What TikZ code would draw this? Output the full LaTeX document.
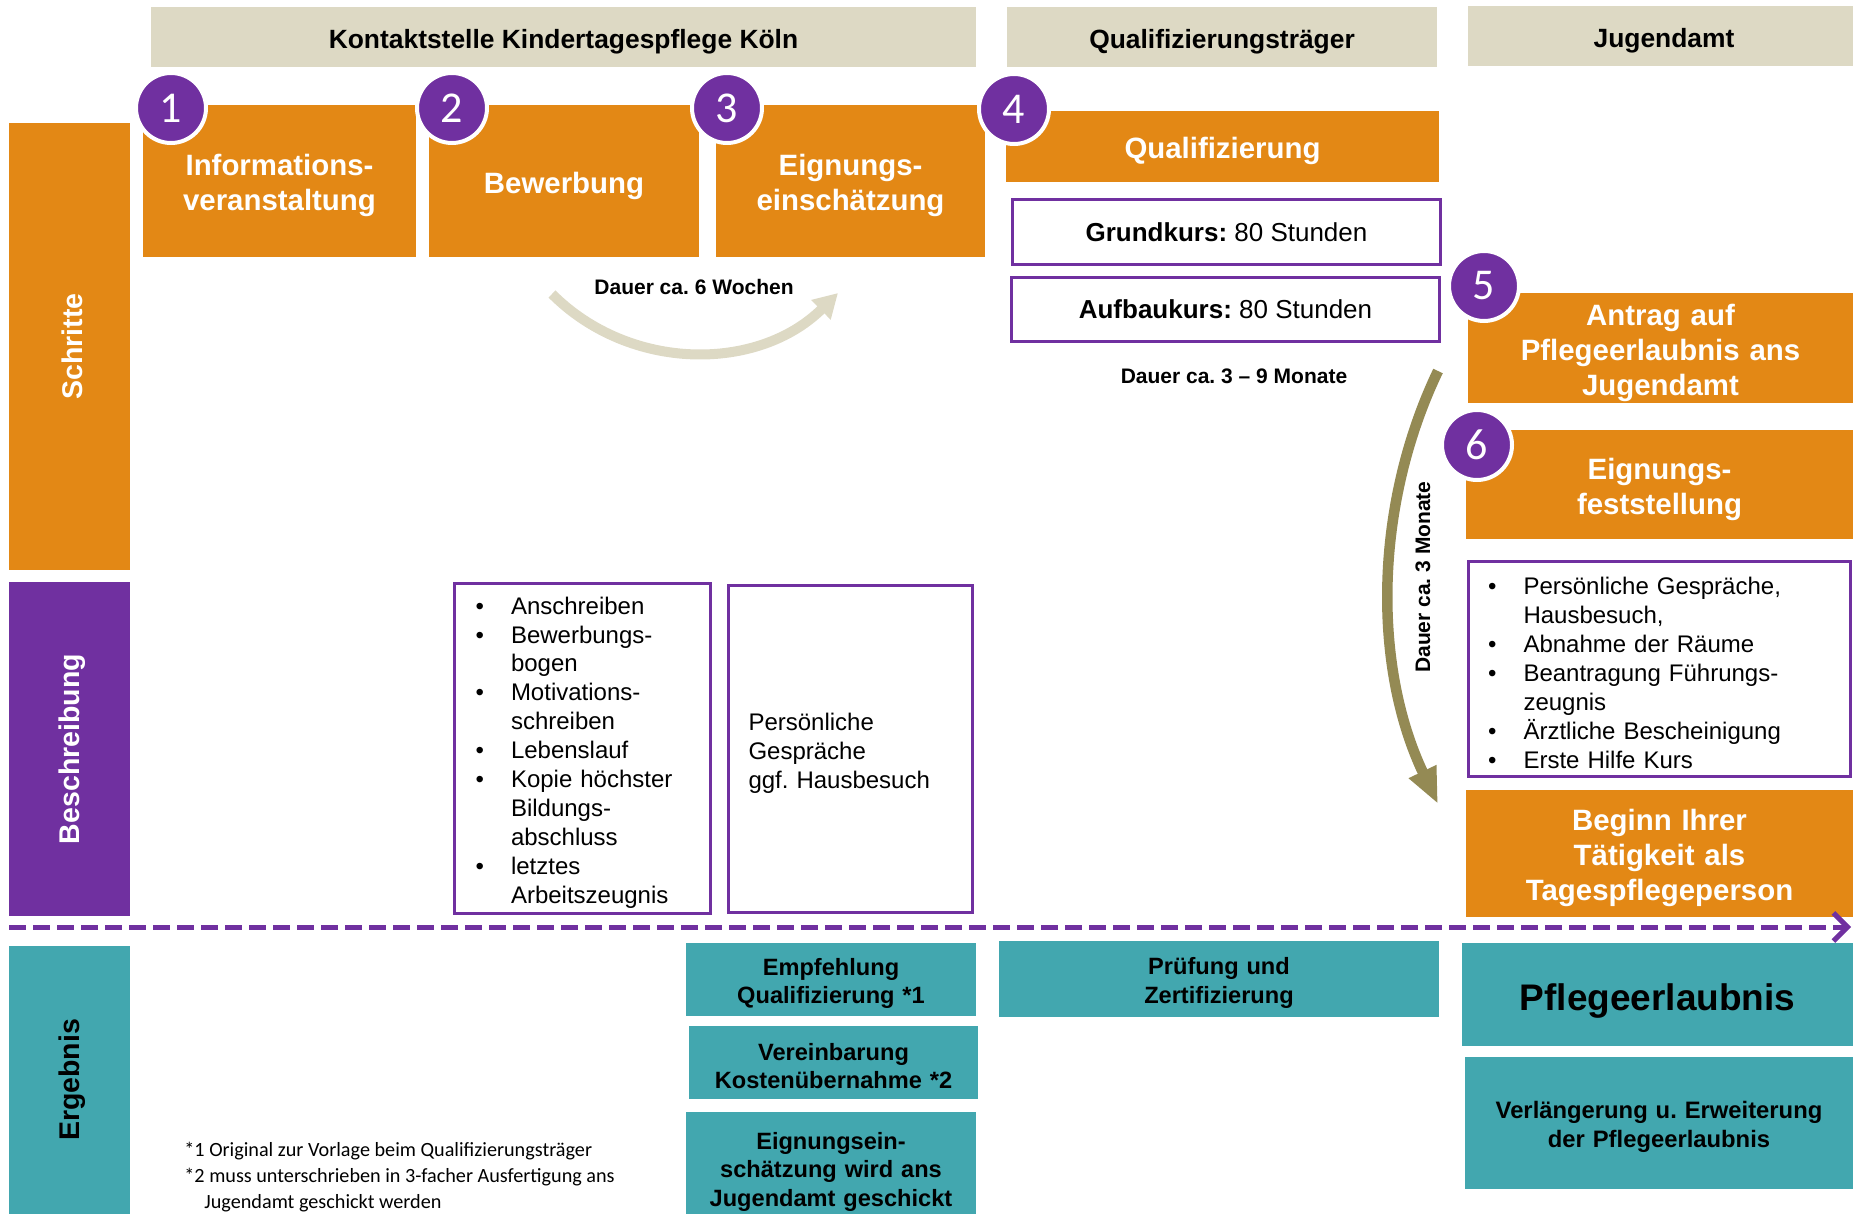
\documentclass[tikz,border=0pt]{standalone}
\usepackage{fontspec}
\setmainfont{Liberation Sans}
\newfontfamily\calib{Carlito}
\usetikzlibrary{arrows.meta}

\definecolor{orangeS}{RGB}{227,136,21}
\definecolor{lila}{RGB}{112,48,160}
\definecolor{petrol}{RGB}{66,167,175}
\definecolor{sand}{RGB}{221,217,196}
\definecolor{oliv}{RGB}{148,138,84}

\frenchspacing
\newcommand{\pkt}{\makebox[17.75pt][l]{\textbullet}}
\newcommand{\ohne}{\makebox[17.75pt]{}}

\tikzset{
  tiefer/.style={execute at begin node={\rule{0pt}{#1}}},
  tiefer/.default=1.05em,
  kopf/.style={fill=sand, inner sep=0pt, minimum height=30pt, tiefer, font=\bfseries\fontsize{13.2}{15}\selectfont},
  seite/.style={rotate=90, inner sep=0pt, minimum height=60.5pt, tiefer=0.9em, font=\bfseries\fontsize{14.25}{16}\selectfont},
  schritt/.style 2 args={fill=orangeS, text=white, align=center, inner sep=0pt, tiefer, text width=#1, minimum height=#2, font=\bfseries\fontsize{14.7}{17.5}\selectfont},
  nummer/.style={circle, fill=lila, draw=white, line width=2pt, text=white, minimum size=35pt, inner sep=0pt, font=\calib\fontsize{22}{22}\selectfont},
  rahmen/.style={draw=lila, line width=1.5pt, fill=white, inner sep=0pt},
  liste/.style={rahmen, align=left, inner ysep=0pt, tiefer, font=\fontsize{12}{14.45}\selectfont},
  dauer/.style={inner sep=0pt, font=\bfseries\fontsize{10.5}{12}\selectfont},
  ergebnis/.style 2 args={fill=petrol, align=center, inner sep=0pt, tiefer, text width=#1, minimum height=#2, font=\bfseries\fontsize{11.8}{14.2}\selectfont},
  bogen/.style={line width=5pt, color=sand, -{Triangle[length=12pt,width=13pt]}},
  bogenlang/.style={line width=5.25pt, color=oliv, -{Triangle[length=18pt,width=14pt]}},
  zeitachse/.style={line width=2.5pt, color=lila, dash pattern=on 8.5pt off 3.5pt, -{Straight Barb[length=7pt,width=14pt]}}
}

\begin{document}
\begin{tikzpicture}[x=0.5pt, y=-0.5pt]
\path[use as bounding box, clip] (0,0) rectangle (1853,1214);

\node[kopf, minimum width=412.5pt] (kontakt) at (563.5,37) {Kontaktstelle Kindertagespflege Köln};
\node[kopf, minimum width=215pt] (traeger) at (1222,37) {Qualifizierungsträger};
\node[kopf, minimum width=196pt] (amt) at (1664,36.5) {Jugendamt};

\node[seite, fill=orangeS, text=white, minimum width=223.5pt] (schritte) at (69.5,346.5) {Schritte};
\node[seite, fill=lila, text=white, minimum width=167pt] (beschr) at (69.5,749) {Beschreibung};
\node[seite, fill=petrol, minimum width=134pt] (ergeb) at (69.5,1080) {Ergebnis};

\node[schritt={136.5pt}{76pt}] (info) at (279.5,181) {Informations-\\veranstaltung};
\node[schritt={135pt}{76pt}] (bewerb) at (564,181) {Bewerbung};
\node[schritt={134.5pt}{76pt}] (eignung) at (850.5,181) {Eignungs-\\einschätzung};
\node[schritt={216.5pt}{35.5pt}] (quali) at (1222.5,146.5) {Qualifizierung};
\node[schritt={192.5pt}{55pt}] (antrag) at (1660.5,348) {Antrag auf\\Pflegeerlaubnis ans\\Jugendamt};
\node[schritt={193.5pt}{54.5pt}] (fest) at (1659.5,484.5) {Eignungs-\\feststellung};
\node[schritt={193.5pt}{63.5pt}] (beginn) at (1659.5,853.5) {Beginn Ihrer\\Tätigkeit als\\Tagespflegeperson};

\node[nummer] (n1) at (171,108) {1};
\node[nummer] (n2) at (452,108) {2};
\node[nummer] (n3) at (727,108) {3};
\node[nummer] (n4) at (1014,109) {4};
\node[nummer] (n5) at (1484,286) {5};
\node[nummer] (n6) at (1477,445) {6};

\node[rahmen, minimum width=214pt, minimum height=32.5pt, font=\fontsize{13}{15}\selectfont] (grund) at (1226.5,232) {\textbf{Grundkurs:} 80 Stunden};
\node[rahmen, minimum width=214pt, minimum height=32pt, font=\fontsize{13}{15}\selectfont] (aufbau) at (1225.5,309.5) {\textbf{Aufbaukurs:} 80 Stunden};

\node[dauer] (dauer39) at (1234,376) {Dauer ca. 3 – 9 Monate};
\node[dauer] (dauer6) at (694,287) {Dauer ca. 6 Wochen};
\node[dauer, rotate=90] (dauer3) at (1423,577) {Dauer ca. 3 Monate};

\coordinate (w1) at (552,294);
\coordinate (w2) at (838,293);
\draw[bogen] (w1) .. controls (630,372) and (758,372) .. (w2);
\coordinate (m1) at (1438,371);
\coordinate (m2) at (1438,804);
\draw[bogenlang] (m1) .. controls (1373,507) and (1373,668) .. (m2);

\node[liste, text width=107pt, inner xsep=10.5pt, minimum height=165pt] (unterlagen) at (582.5,748.5)
  {\pkt Anschreiben\\\pkt Bewerbungs-\\\ohne bogen\\\pkt Motivations-\\\ohne schreiben\\\pkt Lebenslauf\\\pkt Kopie höchster\\\ohne Bildungs-\\\ohne abschluss\\\pkt letztes\\\ohne Arbeitszeugnis};
\node[liste, text width=102pt, inner xsep=10pt, minimum height=163.5pt] (gespraech) at (850.5,749)
  {Persönliche\\Gespräche\\ggf. Hausbesuch};
\node[liste, text width=171pt, inner xsep=10pt, minimum height=107.5pt, font=\fontsize{12}{14.5}\selectfont] (pruefliste) at (1659,669)
  {\pkt Persönliche Gespräche,\\\ohne Hausbesuch,\\\pkt Abnahme der Räume\\\pkt Beantragung Führungs-\\\ohne zeugnis\\\pkt Ärztliche Bescheinigung\\\pkt Erste Hilfe Kurs};

\coordinate (t0) at (9,927);
\coordinate (t1) at (1851,927);
\draw[zeitachse] (t0) -- (t1);

\node[ergebnis={145pt}{36.5pt}] (empf) at (831,979.5) {Empfehlung\\Qualifizierung *1};
\node[ergebnis={144.5pt}{36.5pt}] (kosten) at (833.5,1062.5) {Vereinbarung\\Kostenübernahme *2};
\node[ergebnis={145pt}{56pt}] (geschickt) at (831,1168) {Eignungsein-\\schätzung wird ans\\Jugendamt geschickt};
\node[ergebnis={220pt}{38pt}] (zert) at (1219,979) {Prüfung und\\Zertifizierung};
\node[ergebnis={195.5pt}{51.5pt}, font=\bfseries\fontsize{18.5}{22}\selectfont] (erlaubnis) at (1657.5,994.5) {Pflegeerlaubnis};
\node[ergebnis={194pt}{66pt}, font=\bfseries\fontsize{11.9}{14.8}\selectfont] (verl) at (1659,1123) {Verlängerung u. Erweiterung\\der Pflegeerlaubnis};

\node[anchor=west, align=left, inner sep=0pt, font=\calib\fontsize{10.1}{13}\selectfont] (fussnote) at (184,1177)
  {*1 Original zur Vorlage beim Qualifizierungsträger\\*2 muss unterschrieben in 3-facher Ausfertigung ans\\\hspace*{10pt}Jugendamt geschickt werden};
\end{tikzpicture}
\end{document}
